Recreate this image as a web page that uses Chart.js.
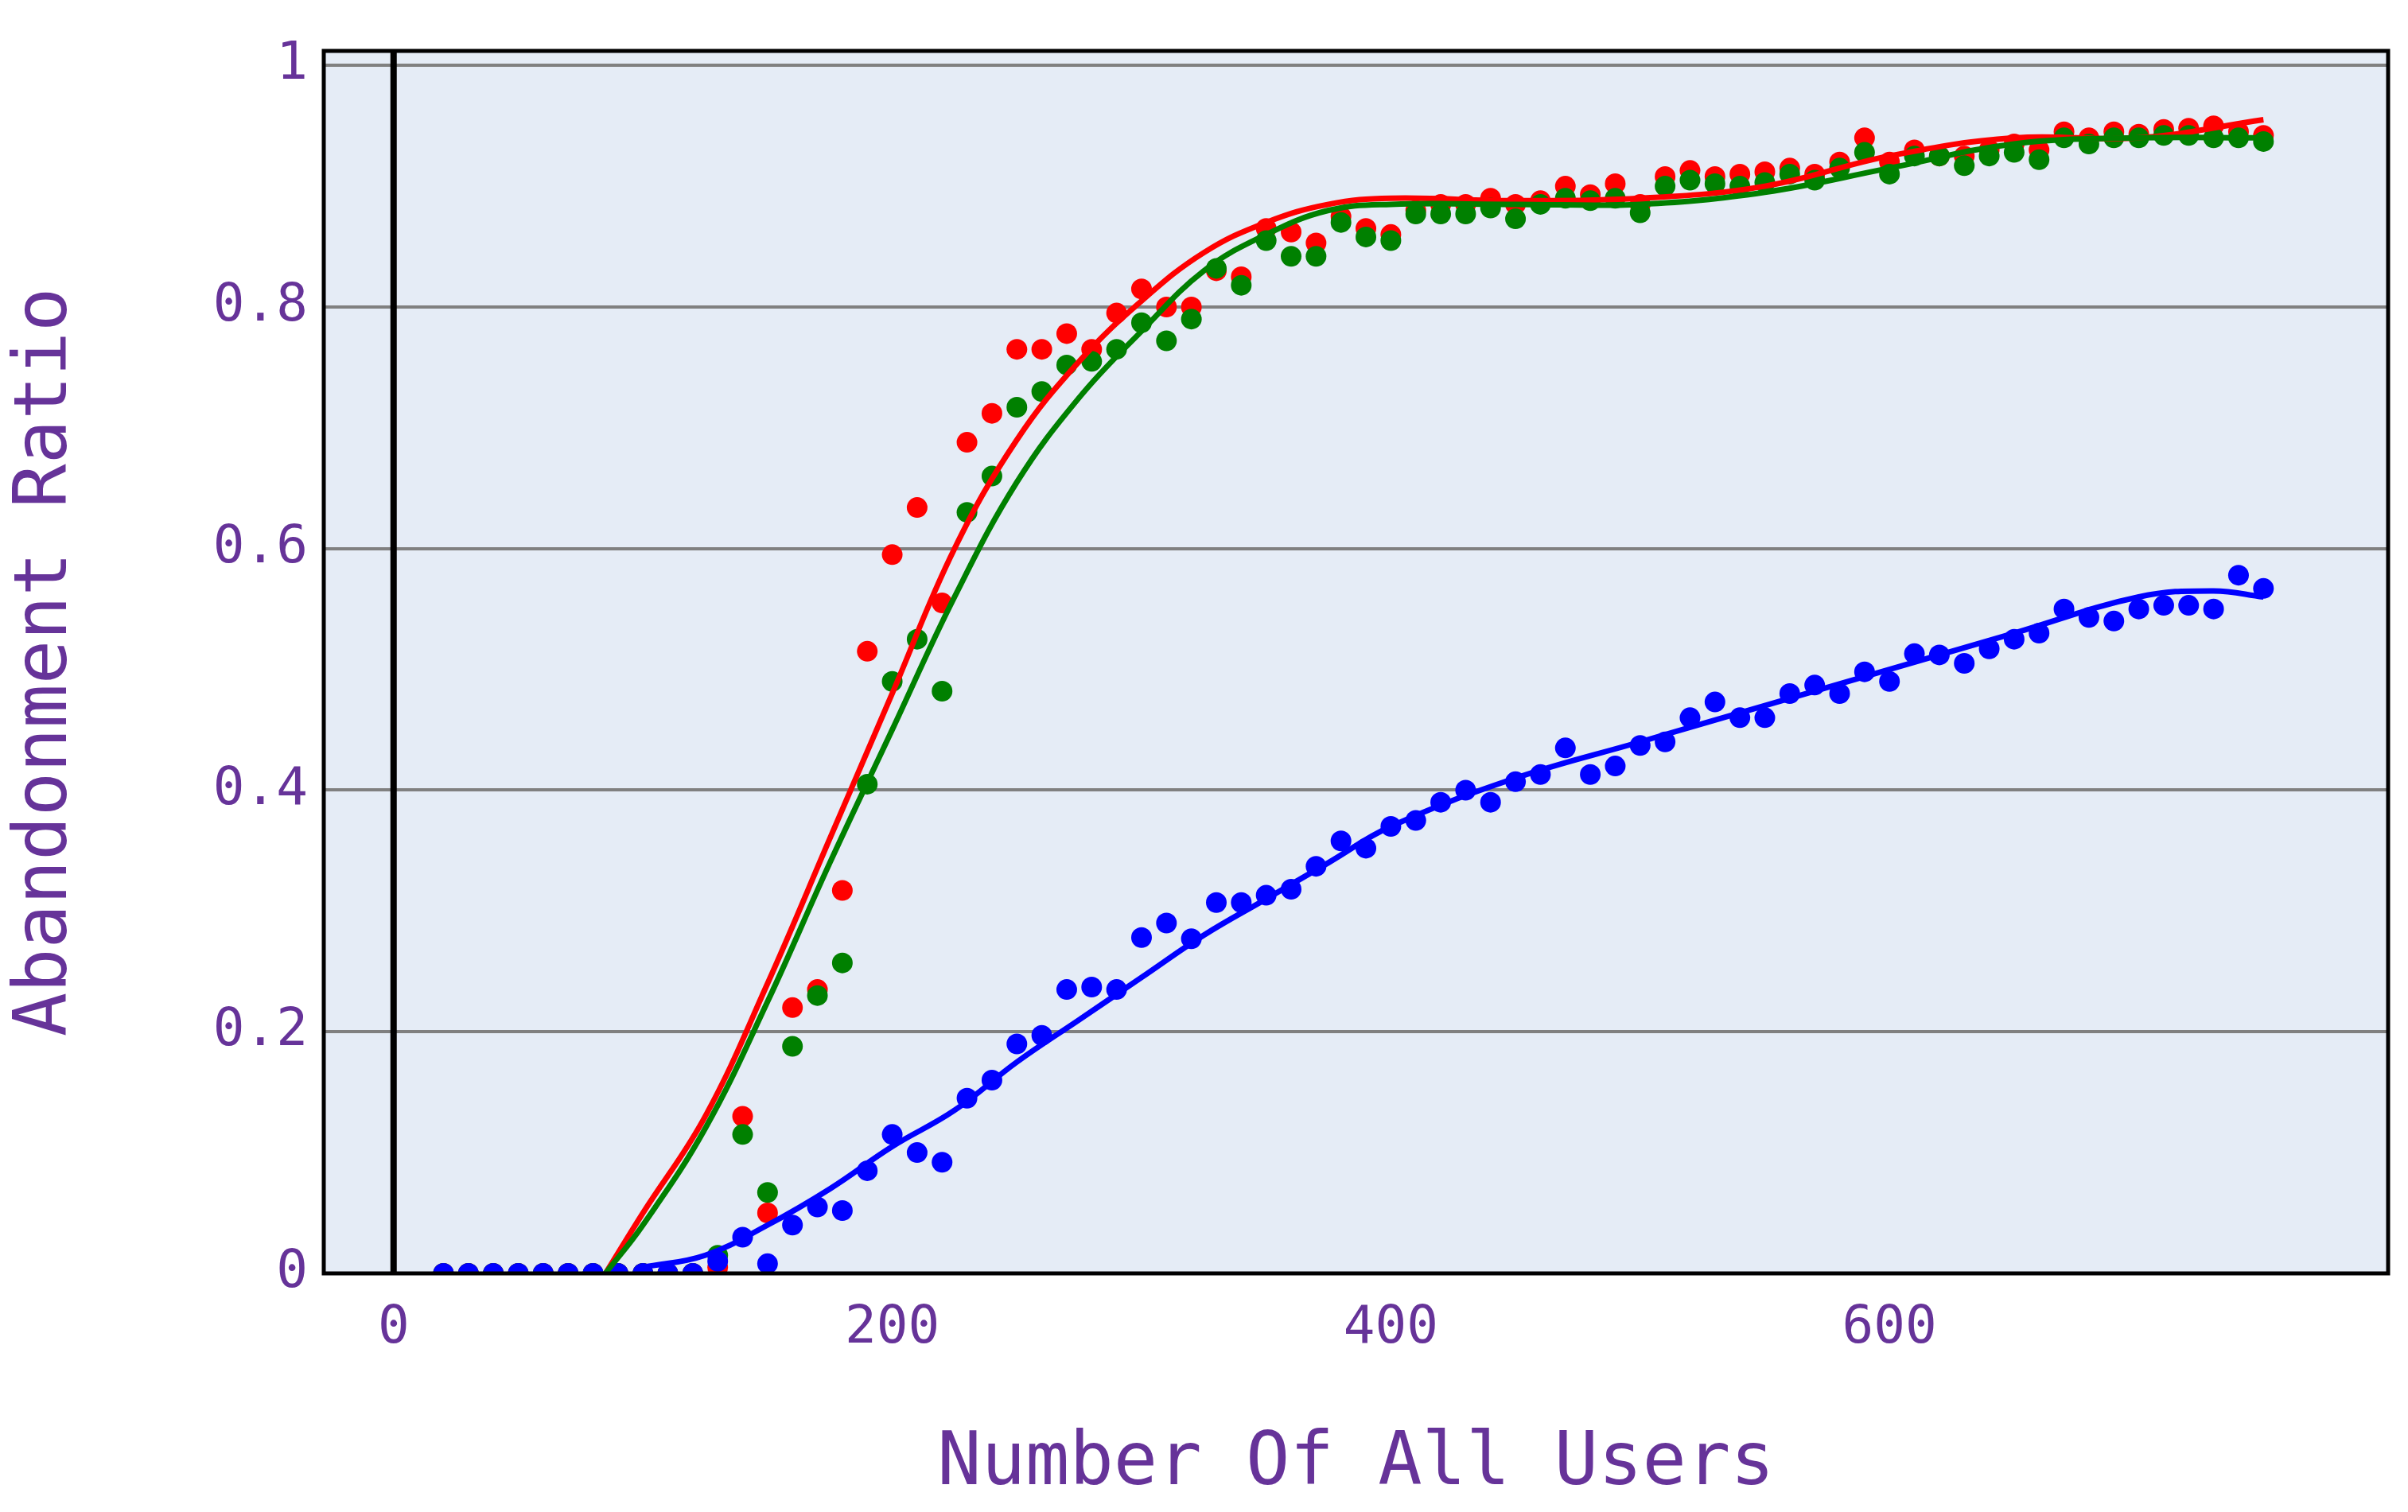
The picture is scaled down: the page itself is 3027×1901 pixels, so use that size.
<!DOCTYPE html>
<html>
<head>
<meta charset="utf-8">
<script src="https://cdn.jsdelivr.net/npm/chart.js@4/dist/chart.umd.min.js"></script>
<style>body{margin:0;background:#fff}</style>
</head>
<body>
<canvas id="chart" width="3027" height="1901"></canvas>
<script>
const xs = [];
for (let x = 20; x <= 750; x += 10) xs.push(x);

const redVals = [0,0,0,0,0,0,0,0,0,0,0,0.005,0.13,0.05,0.22,0.235,0.317,0.515,0.595,0.634,
  0.555,0.688,0.712,0.765,0.765,0.778,0.765,0.795,0.815,0.8,0.8,0.83,0.825,0.865,0.862,0.853,
  0.875,0.865,0.86,0.88,0.885,0.885,0.89,0.885,0.888,0.9,0.893,0.902,0.885,0.908,0.913,0.908,
  0.91,0.912,0.915,0.91,0.92,0.94,0.92,0.93,0.925,0.925,0.93,0.935,0.93,0.945,0.94,0.945,
  0.943,0.947,0.948,0.95,0.945,0.942];
const greenVals = [0,0,0,0,0,0,0,0,0,0,0,0.015,0.115,0.067,0.188,0.23,0.257,0.405,0.49,0.525,
  0.482,0.63,0.66,0.717,0.73,0.752,0.755,0.765,0.787,0.772,0.79,0.832,0.818,0.855,0.842,0.842,
  0.87,0.858,0.855,0.877,0.877,0.877,0.882,0.873,0.885,0.89,0.888,0.89,0.878,0.9,0.905,0.902,
  0.9,0.903,0.91,0.905,0.915,0.928,0.91,0.925,0.925,0.917,0.925,0.928,0.922,0.94,0.935,0.94,
  0.94,0.942,0.942,0.94,0.94,0.937];
const blueVals = [0,0,0,0,0,0,0,0,0,0,0,0.01,0.03,0.008,0.04,0.055,0.052,0.085,0.115,0.1,
  0.092,0.145,0.16,0.19,0.197,0.235,0.237,0.235,0.278,0.29,0.277,0.307,0.307,0.313,0.318,0.337,
  0.358,0.352,0.37,0.375,0.39,0.4,0.39,0.407,0.413,0.435,0.413,0.42,0.437,0.44,0.46,0.473,
  0.46,0.46,0.48,0.487,0.48,0.498,0.49,0.513,0.512,0.505,0.517,0.525,0.53,0.55,0.543,0.54,
  0.55,0.553,0.553,0.55,0.578,0.567];

const fitX = [85,100,125,150,175,200,225,250,275,300,325,350,375,400,450,500,550,600,650,700,750];
const redFit = [0,0.05,0.13,0.24,0.36,0.48,0.6,0.69,0.755,0.805,0.845,0.87,0.885,0.89,0.888,0.89,0.9,0.925,0.94,0.94,0.955];
const greenFit = [0,0.04,0.12,0.225,0.34,0.45,0.56,0.655,0.725,0.78,0.83,0.86,0.88,0.885,0.885,0.885,0.895,0.915,0.935,0.94,0.94];
const blueFitX = [100,125,150,175,200,225,250,275,300,325,350,375,400,450,500,550,600,650,700,730,750];
const blueFit = [0.005,0.015,0.04,0.07,0.105,0.135,0.175,0.21,0.245,0.28,0.31,0.34,0.37,0.41,0.44,0.47,0.5,0.53,0.56,0.565,0.56];

const pts = (xa, ya) => xa.map((x, i) => ({ x: x, y: ya[i] }));
const purple = '#663399';
const font = 'DejaVu Sans Mono';

const bgPlugin = {
  id: 'bg',
  beforeDraw(chart) {
    const { ctx, chartArea: a } = chart;
    ctx.save();
    ctx.fillStyle = '#E5ECF6';
    ctx.fillRect(a.left, a.top, a.right - a.left, a.bottom - a.top);
    ctx.restore();
  },
  beforeDatasetsDraw(chart) {
    const { ctx, chartArea: a, scales } = chart;
    const x0 = scales.x.getPixelForValue(0);
    ctx.save();
    ctx.strokeStyle = '#000';
    ctx.lineWidth = 8;
    ctx.beginPath();
    ctx.moveTo(x0, a.top);
    ctx.lineTo(x0, a.bottom);
    ctx.stroke();
    ctx.restore();
  },
  afterDraw(chart) {
    const { ctx, chartArea: a } = chart;
    ctx.save();
    ctx.strokeStyle = '#000';
    ctx.lineWidth = 5;
    ctx.strokeRect(a.left, a.top, a.right - a.left, a.bottom - a.top);
    ctx.restore();
  }
};

const dot = (data, color, order) => ({
  data: data, showLine: false, pointRadius: 13, pointHoverRadius: 13,
  backgroundColor: color, borderWidth: 0, order: order
});
const line = (data, color, order) => ({
  data: data, showLine: true, pointRadius: 0, borderColor: color,
  borderWidth: 7, tension: 0.4, fill: false, order: order
});

new Chart(document.getElementById('chart'), {
  type: 'scatter',
  data: {
    datasets: [
      dot(pts(xs, redVals), '#ff0000', 6),
      dot(pts(xs, greenVals), '#008000', 5),
      dot(pts(xs, blueVals), '#0000ff', 4),
      line(pts(fitX, redFit), '#ff0000', 3),
      line(pts(fitX, greenFit), '#008000', 2),
      line(pts(blueFitX, blueFit), '#0000ff', 1)
    ]
  },
  plugins: [bgPlugin],
  options: {
    responsive: false,
    animation: false,
    devicePixelRatio: 1,
    layout: { padding: { top: 64, right: 25, left: 0, bottom: 0 } },
    plugins: { legend: { display: false }, tooltip: { enabled: false } },
    scales: {
      x: {
        type: 'linear', min: -28, max: 800,
        afterBuildTicks: s => { s.ticks = [0, 200, 400, 600].map(v => ({ value: v })); },
        afterFit: s => { s.height = 300; },
        grid: { display: false, drawTicks: false },
        border: { display: false },
        ticks: { color: purple, font: { family: font, size: 66 }, padding: 30, callback: v => v },
        title: { display: true, text: 'Number Of All Users', color: purple, font: { family: font, size: 92 }, padding: { top: 40 } }
      },
      y: {
        min: 0, max: 1.012,
        afterBuildTicks: s => { s.ticks = [0, 0.2, 0.4, 0.6, 0.8, 1].map(v => ({ value: v })); },
        afterFit: s => { s.width = 407; },
        grid: { color: '#808080', lineWidth: 4, drawTicks: false },
        border: { display: false },
        ticks: { color: purple, font: { family: font, size: 66 }, padding: 20, callback: v => v === 0 ? '0' : v === 1 ? '1' : v.toFixed(1) },
        title: { display: true, text: 'Abandonment Ratio', color: purple, font: { family: font, size: 92 }, padding: { bottom: 30 } }
      }
    }
  }
});
</script>
</body>
</html>
